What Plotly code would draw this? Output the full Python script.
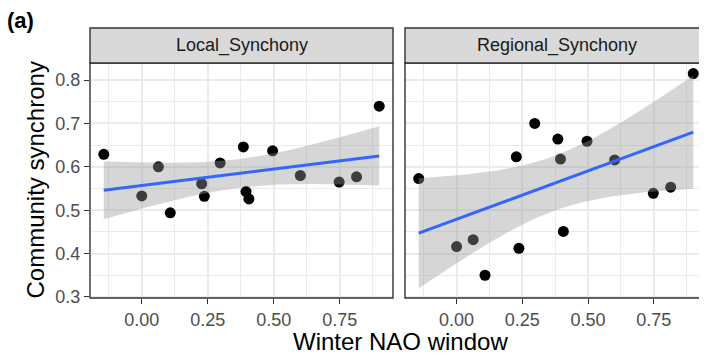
import numpy as np
import plotly.graph_objects as go

# ---- data ----
nao_window = [-0.144, 0.000, 0.063, 0.108, 0.227, 0.237, 0.297, 0.385, 0.395, 0.406,
              0.496, 0.601, 0.748, 0.814, 0.900]
local_synchrony = [0.629, 0.533, 0.600, 0.494, 0.561, 0.532, 0.609, 0.646, 0.543, 0.526,
                   0.637, 0.580, 0.565, 0.577, 0.740]
regional_synchrony = [0.573, 0.416, 0.432, 0.350, 0.623, 0.412, 0.700, 0.664, 0.618, 0.451,
                      0.659, 0.616, 0.539, 0.553, 0.815]
panel_titles = ["Local_Synchony", "Regional_Synchony"]
x_ticks = [0.0, 0.25, 0.5, 0.75]
y_ticks = [0.3, 0.4, 0.5, 0.6, 0.7, 0.8]

T_975_DF13 = 2.1604  # t quantile for 95% CI with n-2 = 13 df


def lm_smooth(x, y, n=80):
    x = np.asarray(x, float)
    y = np.asarray(y, float)
    X = np.column_stack([np.ones_like(x), x])
    beta, *_ = np.linalg.lstsq(X, y, rcond=None)
    resid = y - X @ beta
    dof = len(x) - 2
    s2 = resid @ resid / dof
    cov = s2 * np.linalg.inv(X.T @ X)
    xs = np.linspace(x.min(), x.max(), n)
    Xs = np.column_stack([np.ones_like(xs), xs])
    fit = Xs @ beta
    se = np.sqrt(np.einsum("ij,jk,ik->i", Xs, cov, Xs))
    return xs, fit, fit - T_975_DF13 * se, fit + T_975_DF13 * se


FONT = "Liberation Sans, Arial, Helvetica, sans-serif"
fig = go.Figure()

series = [local_synchrony, regional_synchrony]
for i, ys in enumerate(series):
    xa = "x" if i == 0 else "x2"
    ya = "y" if i == 0 else "y2"
    fig.add_trace(go.Scatter(x=nao_window, y=ys, mode="markers", xaxis=xa, yaxis=ya,
                             marker=dict(size=11, color="black", line=dict(width=0)),
                             showlegend=False, hoverinfo="x+y"))
    xs, fit, lo, hi = lm_smooth(nao_window, ys)
    fig.add_trace(go.Scatter(x=np.concatenate([xs, xs[::-1]]),
                             y=np.concatenate([hi, lo[::-1]]),
                             fill="toself", fillcolor="rgba(153,153,153,0.4)",
                             line=dict(width=0), mode="lines", xaxis=xa, yaxis=ya,
                             showlegend=False, hoverinfo="skip"))
    fig.add_trace(go.Scatter(x=xs, y=fit, mode="lines", xaxis=xa, yaxis=ya,
                             line=dict(color="#3366FF", width=3),
                             showlegend=False, hoverinfo="skip"))

# page has an 8px body margin: work in page pixels, subtract the offset
OFF = 8
W, H = 707 - OFF, 358 - OFF
ML, MR, MT, MB = 90 - OFF, 0, 63 - OFF, 60
PW = W - ML - MR
PH = H - MT - MB


def px_x(page_x):
    return (page_x - OFF - ML) / PW


def px_y(page_y):
    return (H - MB - (page_y - OFF)) / PH


dom1 = [0.0, 303 / PW]
dom2 = [px_x(405), 1.0]
xrange_ = [-0.1962, 0.9522]
yrange_ = [0.2975, 0.8395]

grid_major = "#EBEBEB"
tick_font = dict(family=FONT, size=18, color="#4D4D4D")

xaxis_common = dict(range=xrange_, tickvals=x_ticks, tickformat=".2f", ticks="outside",
                    ticklen=5, tickwidth=1.3, tickcolor="#333333", showgrid=True,
                    gridcolor=grid_major, gridwidth=1.6, zeroline=False, showline=False,
                    tickfont=tick_font, fixedrange=True,
                    minor=dict(tickvals=[-0.125, 0.125, 0.375, 0.625, 0.875], showgrid=True,
                               gridcolor=grid_major, gridwidth=0.8, ticks=""))
yaxis_common = dict(range=yrange_, tickvals=y_ticks, tickformat=".1f", showgrid=True,
                    gridcolor=grid_major, gridwidth=1.6, zeroline=False, showline=False,
                    tickfont=tick_font, fixedrange=True,
                    minor=dict(tickvals=[0.35, 0.45, 0.55, 0.65, 0.75], showgrid=True,
                               gridcolor=grid_major, gridwidth=0.8, ticks=""))

fig.update_layout(
    width=W, height=H,
    margin=dict(l=ML, r=MR, t=MT, b=MB, autoexpand=False),
    paper_bgcolor="white", plot_bgcolor="white",
    font=dict(family=FONT),
    xaxis=dict(domain=dom1, anchor="y", **xaxis_common),
    xaxis2=dict(domain=dom2, anchor="y2", **xaxis_common),
    yaxis=dict(domain=[0, 1], anchor="x", ticks="outside", ticklen=5, tickwidth=1.3,
               tickcolor="#333333", **yaxis_common),
    yaxis2=dict(domain=[0, 1], anchor="x2", showticklabels=False, ticks="",
                **yaxis_common),
)

strip_h = 35 / PH
shapes = []
annotations = []
for i, dom in enumerate([dom1, dom2]):
    xr = "x domain" if i == 0 else "x2 domain"
    yr = "y domain" if i == 0 else "y2 domain"
    shapes.append(dict(type="rect", xref=xr, yref=yr, x0=0, x1=1, y0=0, y1=1,
                       line=dict(color="#333333", width=1.4), fillcolor="rgba(0,0,0,0)",
                       layer="above"))
    shapes.append(dict(type="rect", xref="paper", yref="paper", x0=dom[0], x1=dom[1],
                       y0=1, y1=1 + strip_h, line=dict(color="#333333", width=1.4),
                       fillcolor="#D9D9D9", layer="above"))
    cx = (dom[0] + dom[0] + 303 / PW) / 2
    annotations.append(dict(text=panel_titles[i], xref="paper", yref="paper",
                            x=cx, y=1 + strip_h / 2, xanchor="center", yanchor="middle",
                            showarrow=False,
                            font=dict(family=FONT, size=18, color="#1A1A1A")))

annotations.append(dict(text="Winter NAO window", xref="paper", yref="paper",
                        x=px_x(400), y=px_y(341),
                        xanchor="center", yanchor="middle", showarrow=False,
                        font=dict(family=FONT, size=24, color="black")))
annotations.append(dict(text="Community synchrony", xref="paper", yref="paper",
                        x=px_x(35), y=0.5, textangle=-90,
                        xanchor="center", yanchor="middle", showarrow=False,
                        font=dict(family=FONT, size=24, color="black")))
annotations.append(dict(text="<b>(a)</b>", xref="paper", yref="paper",
                        x=px_x(20), y=px_y(20),
                        xanchor="center", yanchor="middle", showarrow=False,
                        font=dict(family=FONT, size=22, color="black")))

fig.update_layout(shapes=shapes, annotations=annotations)
fig.write_html("out.html")
